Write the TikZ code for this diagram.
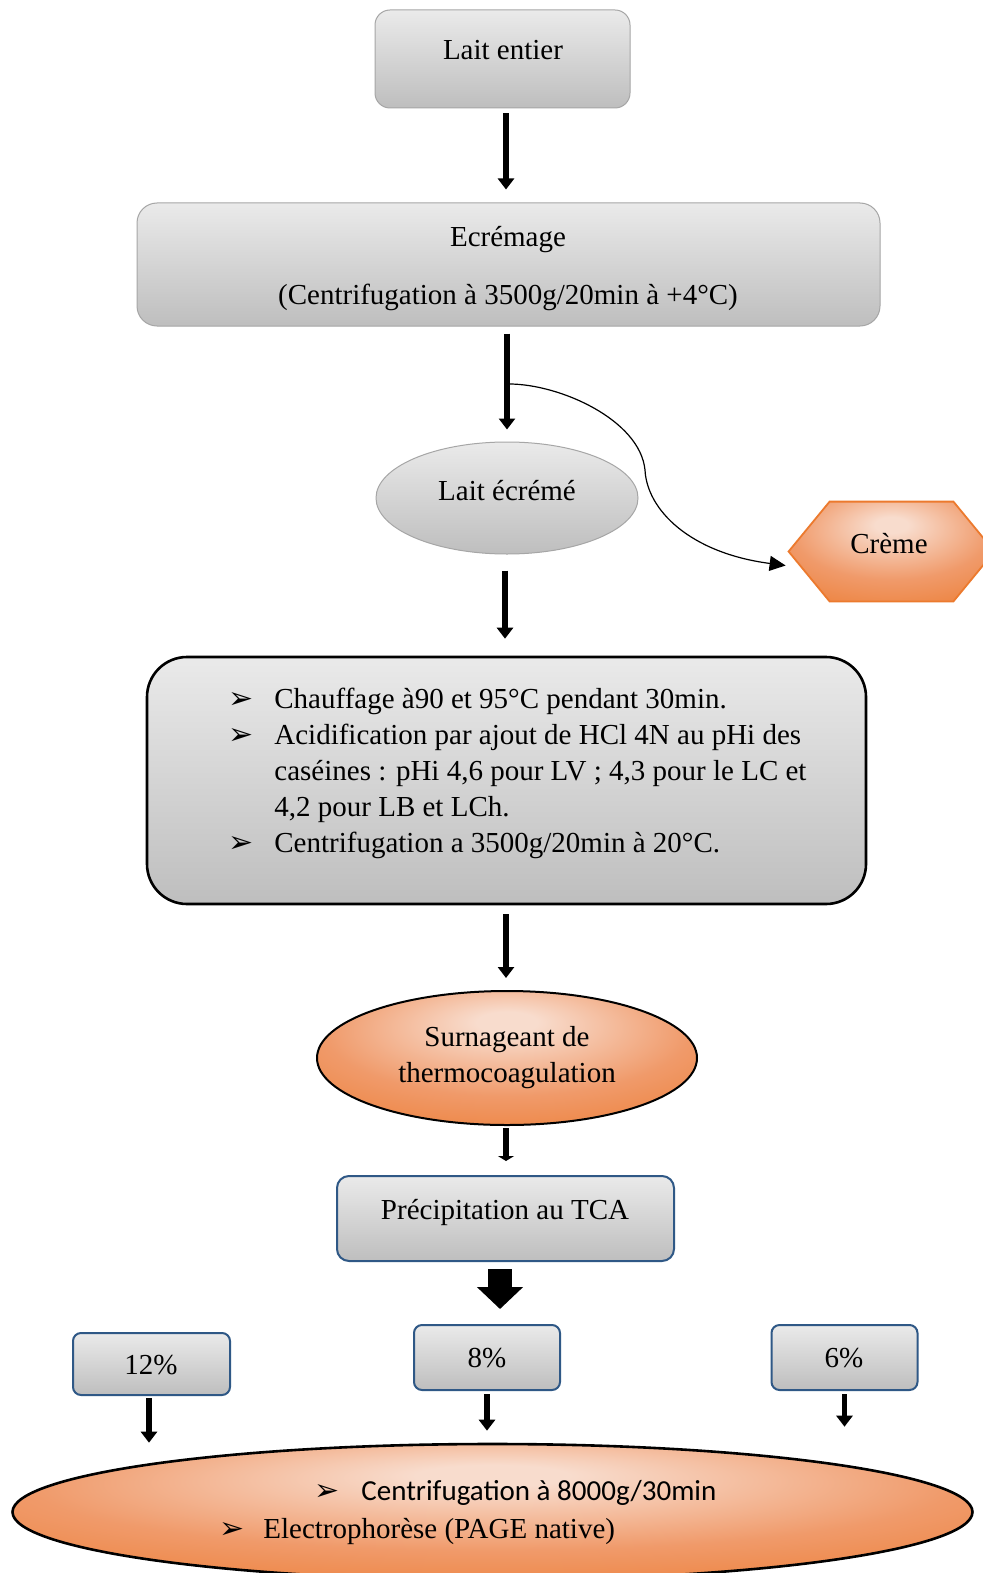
\documentclass[tikz,border=0pt]{standalone}
\usepackage{fontspec}
\setmainfont{Liberation Serif}
\newfontfamily\calfont{Carlito}
\newfontfamily\dvfont{DejaVu Sans}
\usetikzlibrary{shapes.geometric,arrows.meta}
\definecolor{gTop}{HTML}{EAEAEA}
\definecolor{gBot}{HTML}{BEBEBE}
\definecolor{gLine}{HTML}{A6A6A6}
\definecolor{blueB}{HTML}{2F5886}
\definecolor{oD}{HTML}{EC7A2E}
\definecolor{oM}{HTML}{F09A6A}
\definecolor{oL}{HTML}{F8DCCD}
\pgfdeclareradialshading{orad}{\pgfpoint{0bp}{14bp}}{color(0bp)=(oL); color(4bp)=(oL); color(24bp)=(oM); color(44bp)=(oD); color(80bp)=(oD)}
\newcommand\bul{{\dvfont\fontsize{15}{15}\selectfont ➢}}
\begin{document}
\begin{tikzpicture}[x=0.5pt,y=-0.5pt,
  txt/.style={font=\fontsize{14.5}{18}\selectfont, inner sep=0pt, anchor=base},
  graybox/.style={draw=gLine, line width=0.5pt, top color=gTop, bottom color=gBot, inner sep=0pt},
  bluebox/.style={draw=blueB, line width=1pt, top color=gTop, bottom color=gBot, inner sep=0pt, rounded corners=4pt},
  orangefill/.style={shading=orad},
  arr/.style={line width=2.6pt, -{Triangle[width=8pt,length=5.5pt]}},
  curvearr/.style={line width=0.6pt, -{Triangle[width=7.5pt,length=8pt]}}
]
\useasboundingbox[fill=white] (0,0) rectangle (983,1573);

% nodes
\node[graybox, rounded corners=7.5pt, minimum width=127.5pt, minimum height=49pt] (entier) at (502.5,59) {};
\node[txt] (entierT) at (503,60) {Lait entier};

\node[graybox, rounded corners=10pt, minimum width=371.5pt, minimum height=61.5pt] (ecremage) at (508.5,264.5) {};
\node[txt] (ecrT1) at (508,247) {Ecrémage};
\node[txt] (ecrT2) at (508,304) {(Centrifugation à 3500g/20min à +4°C)};

\node[graybox, ellipse, minimum width=131pt, minimum height=56pt] (ecreme) at (507,498) {};
\node[txt] (ecremeT) at (507,500) {Lait écrémé};

\node[inner sep=0pt, minimum width=102.5pt, minimum height=49.5pt] (creme) at (891.5,551.5) {};
\path[orangefill, draw=oD, line width=0.9pt]
  (creme.west) -- ([xshift=20.5pt]creme.north west) -- ([xshift=-20.5pt]creme.north east)
  -- (creme.east) -- ([xshift=-20.5pt]creme.south east) -- ([xshift=20.5pt]creme.south west) -- cycle;
\node[txt] (cremeT) at (889,553) {Crème};

\node[draw=black, line width=1.3pt, rounded corners=20pt, top color=gTop, bottom color=gBot,
      minimum width=359.5pt, minimum height=123.5pt, inner sep=0pt] (bigbox) at (506.5,780.5) {};
\node[txt, anchor=base west] (bigT) at (228,708) {%
  \begin{tabular}[t]{@{}l@{}l@{}}
  \makebox[23pt][l]{\bul} & Chauffage à90 et 95°C pendant 30min.\\
  \makebox[23pt][l]{\bul} & Acidification par ajout de HCl 4N au pHi des\\
   & caséines : pHi 4,6 pour LV ; 4,3 pour le LC et\\
   & 4,2 pour LB et LCh.\\
  \makebox[23pt][l]{\bul} & Centrifugation a 3500g/20min à 20°C.
  \end{tabular}};

\node[ellipse, draw=black, line width=1pt, orangefill, minimum width=190pt, minimum height=67pt, inner sep=0pt] (surn) at (507,1058) {};
\node[txt] (surnT) at (507,1046) {\begin{tabular}[t]{@{}c@{}}Surnageant de\\ thermocoagulation\end{tabular}};

\node[bluebox, rounded corners=6pt, minimum width=168.5pt, minimum height=42.5pt] (tca) at (505.5,1218.5) {};
\node[txt] (tcaT) at (505,1219) {Précipitation au TCA};

\node[bluebox, minimum width=78.5pt, minimum height=31pt] (p12) at (151.5,1364) {};
\node[txt] (p12T) at (151,1374) {12\%};
\node[bluebox, minimum width=73pt, minimum height=32.5pt] (p8) at (487,1357.5) {};
\node[txt] (p8T) at (487,1367) {8\%};
\node[bluebox, minimum width=73pt, minimum height=32.5pt] (p6) at (844.5,1357.5) {};
\node[txt] (p6T) at (844,1367) {6\%};

\node[ellipse, draw=black, line width=1.3pt, orangefill, minimum width=480pt, minimum height=68pt, inner sep=0pt] (bot) at (492.5,1512) {};
\node[txt, anchor=base west] (botT1) at (314,1500) {\makebox[23.5pt][l]{\bul}{\calfont Centrifugation à 8000g/30min}};
\node[txt, anchor=base west] (botT2) at (219,1538) {\makebox[22pt][l]{\bul}Electrophorèse (PAGE native)};

% connectors
\draw[arr, shorten <=2.5pt, shorten >=6.5pt] ([xshift=1.75pt]entier.south) -- ([xshift=1.75pt]entier.south |- ecremage.north);
\draw[arr, shorten <=3.5pt, shorten >=6pt] ([xshift=-0.75pt]ecremage.south) -- ([xshift=-0.75pt]ecremage.south |- ecreme.north);
\draw[arr, shorten <=8pt, shorten >=8.5pt] ([xshift=-1pt]ecreme.south) -- ([xshift=-1pt]ecreme.south |- bigbox.north);
\draw[arr, shorten <=4.5pt, shorten >=6pt] ([xshift=-0.25pt]bigbox.south) -- ([xshift=-0.25pt]bigbox.south |- surn.north);
\draw[line width=2.6pt, -{Triangle[width=8pt,length=2.5pt]}, shorten <=1pt, shorten >=7pt] ([xshift=-0.5pt]surn.south) -- ([xshift=-0.5pt]surn.south |- tca.north);
\draw[line width=12pt, -{Triangle[width=22.5pt,length=11pt]}, shorten <=3.5pt, shorten >=7.5pt] ([xshift=-2.75pt]tca.south) -- ([xshift=-2.75pt]tca.south |- p8.north);
\draw[arr, shorten <=1pt] ([xshift=-1.25pt]p12.south) -- ([xshift=-1.25pt]p12.south |- bot.north);
\draw[arr, shorten <=1.5pt, shorten >=6pt] (p8.south) -- (p8.south |- bot.north);
\draw[arr, shorten <=1.5pt, shorten >=8pt] (p6.south) -- (p6.south |- bot.north);

\coordinate (split) at (509,384);
\draw[curvearr] (split) .. controls (560,384) and (640,420) .. (645,470)
  .. controls (647,510) and (690,553) .. ([xshift=-1.5pt,yshift=-7pt]creme.west);
\end{tikzpicture}
\end{document}
